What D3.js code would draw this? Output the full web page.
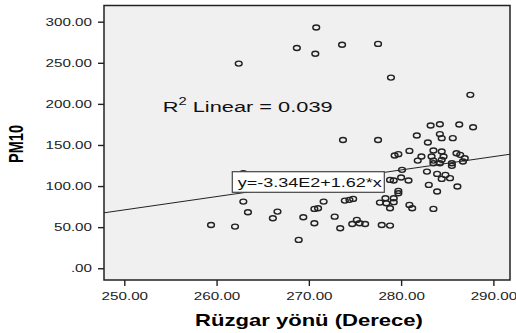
<!DOCTYPE html>
<html>
<head>
<meta charset="utf-8">
<script src="https://cdn.jsdelivr.net/npm/d3@7"></script>
<style>
  html, body { margin: 0; padding: 0; background: #ffffff; }
  svg { display: block; font-family: Arial, "Liberation Sans", sans-serif; }
</style>
</head>
<body>
<svg id="chart" width="516" height="333"></svg>
<script>
// ---- data ----
const windDirection = [
  270.8, 268.7, 270.7, 273.6, 277.5, 278.9, 287.5, 262.4, 273.7, 277.5,
  283.2, 284.2, 286.3, 287.8, 281.7, 284.2, 284.4, 285.6, 282.9, 280.9,
  279.7, 279.3, 283.5, 284.4, 286.0, 286.4, 282.2, 283.3, 284.6, 286.9,
  281.8, 283.5, 284.4, 285.5, 286.7, 283.5, 284.2, 285.5, 280.1, 282.8,
  283.9, 284.8, 284.4, 285.3, 278.8, 279.2, 280.8, 283.0, 286.1, 283.9,
  279.7, 279.7, 278.3, 279.2, 278.4, 279.2, 278.8, 280.9, 281.2, 283.5,
  277.9, 278.8, 262.9, 262.9, 263.4, 259.4, 262.0, 266.6, 266.1, 268.9,
  269.4, 270.6, 270.6, 271.0, 271.6, 272.8, 273.4, 273.9, 274.4, 274.8,
  274.7, 275.2, 275.5, 276.1, 277.7, 280.0
];
const pm10 = [
  293.0, 268.0, 261.0, 272.0, 273.0, 232.0, 211.0, 249.0, 156.0, 156.0,
  173.6, 175.3, 174.9, 171.6, 161.5, 163.2, 158.3, 158.3, 153.0, 142.8,
  138.8, 137.1, 143.2, 142.0, 140.0, 138.0, 135.9, 135.9, 135.9, 133.9,
  131.0, 131.0, 131.9, 127.8, 129.8, 127.8, 127.8, 124.6, 119.7, 117.6,
  114.8, 113.6, 108.7, 109.6, 107.5, 106.7, 106.7, 101.4, 99.4, 93.3,
  94.1, 91.3, 85.2, 85.2, 79.1, 80.4, 73.0, 77.1, 73.0, 72.2,
  52.7, 51.9, 115.7, 81.1, 68.2, 52.7, 50.7, 68.9, 60.9, 34.5,
  62.1, 54.8, 72.2, 73.0, 81.1, 62.8, 48.7, 82.3, 83.2, 84.4,
  53.9, 58.8, 54.8, 53.9, 79.9, 110.5
];
const xTickValues = [250, 260, 270, 280, 290];
const xTickLabels = ["250.00", "260.00", "270.00", "280.00", "290.00"];
const yTickValues = [0, 50, 100, 150, 200, 250, 300];
const yTickLabels = [".00", "50.00", "100.00", "150.00", "200.00", "250.00", "300.00"];
const fitCoefficients = [-334, 1.62];           // intercept, slope
const fitEquationText = "y=-3.34E2+1.62*x";
const rSquaredValue = "0.039";
const xTitle = "Rüzgar yönü (Derece)";
const yTitle = "PM10";

// ---- layout ----
const plot = { left: 104, right: 510, top: 5.5, bottom: 280 };
const STRETCH = 1.38;   // reference text is horizontally stretched
const svg = d3.select("#chart");

const x = d3.scaleLinear().domain([247.8, 291.8]).range([plot.left, plot.right]);
const y = d3.scaleLinear().domain([-14.3, 319.7]).range([plot.bottom, plot.top]);

// plot background
svg.append("rect")
  .attr("x", plot.left).attr("y", plot.top)
  .attr("width", plot.right - plot.left).attr("height", plot.bottom - plot.top)
  .attr("fill", "#f0f0f0");

function stretchText(sel, s) {
  sel.each(function () {
    const w = this.getComputedTextLength();
    this.setAttribute("textLength", w * s);
    this.setAttribute("lengthAdjust", "spacingAndGlyphs");
  });
}

// axes
const yAxis = svg.append("g")
  .attr("transform", `translate(${plot.left},0)`)
  .call(d3.axisLeft(y).tickValues(yTickValues)
    .tickFormat((d, i) => yTickLabels[i]).tickSize(6).tickSizeOuter(0).tickPadding(6));
const xAxis = svg.append("g")
  .attr("transform", `translate(0,${plot.bottom})`)
  .call(d3.axisBottom(x).tickValues(xTickValues)
    .tickFormat((d, i) => xTickLabels[i]).tickSize(6).tickSizeOuter(0).tickPadding(6));
[yAxis, xAxis].forEach(ax => {
  ax.select(".domain").remove();
  ax.selectAll(".tick line").attr("stroke", "#222").attr("stroke-width", 1.4);
  ax.selectAll(".tick text")
    .attr("font-family", "Arial, 'Liberation Sans', sans-serif")
    .attr("font-size", 11).attr("fill", "#222");
  stretchText(ax.selectAll(".tick text"), STRETCH);
});

// regression line
const xd = x.domain();
svg.append("line")
  .attr("x1", x(xd[0])).attr("y1", y(fitCoefficients[0] + fitCoefficients[1] * xd[0]))
  .attr("x2", x(xd[1])).attr("y2", y(fitCoefficients[0] + fitCoefficients[1] * xd[1]))
  .attr("stroke", "#222").attr("stroke-width", 1);

// points
const pts = windDirection.map((d, i) => ({ x: d, y: pm10[i] }));
svg.append("g").selectAll("ellipse").data(pts).join("ellipse")
  .attr("cx", d => x(d.x)).attr("cy", d => y(d.y))
  .attr("rx", 3.4).attr("ry", 2.5)
  .attr("fill", "none").attr("stroke", "#222").attr("stroke-width", 1.4);

// fit equation label box
const eqBox = { x: 232.3, y: 171.7, w: 152, h: 20.6 };
svg.append("rect")
  .attr("x", eqBox.x).attr("y", eqBox.y).attr("width", eqBox.w).attr("height", eqBox.h)
  .attr("fill", "#ffffff").attr("stroke", "#444").attr("stroke-width", 1.2);
svg.append("text")
  .attr("x", 237.7).attr("y", 187.3)
  .attr("font-size", 12).attr("fill", "#111")
  .attr("textLength", 144).attr("lengthAdjust", "spacingAndGlyphs")
  .text(fitEquationText);

// R² label
const rg = svg.append("g");
const rt = rg.append("text").attr("x", 0).attr("y", 0).attr("fill", "#111").attr("font-size", 15.5);
rt.append("tspan").text("R");
rt.append("tspan").attr("font-size", 10.5).attr("dy", -6.8).text("2");
rt.append("tspan").attr("dy", 6.8).text(" Linear = " + rSquaredValue);
{
  const w = rt.node().getComputedTextLength();
  rg.attr("transform", `translate(162.7,111.7) scale(${170 / w},1)`);
}

// frame
svg.append("rect")
  .attr("x", plot.left).attr("y", plot.top)
  .attr("width", plot.right - plot.left).attr("height", plot.bottom - plot.top)
  .attr("fill", "none").attr("stroke", "#222").attr("stroke-width", 1.5);

// x title
const xg = svg.append("g");
const xt = xg.append("text").attr("text-anchor", "middle")
  .attr("font-size", 16).attr("font-weight", "bold").attr("fill", "#000").text(xTitle);
{
  const w = xt.node().getComputedTextLength();
  xg.attr("transform", `translate(309,326) scale(${228 / w},1)`);
}

// y title (rotated; glyph height stretched horizontally)
const yg = svg.append("g");
yg.append("text").attr("text-anchor", "middle")
  .attr("font-size", 14.5).attr("font-weight", "bold").attr("fill", "#000").text(yTitle);
yg.attr("transform", `translate(23.3,144) rotate(-90) scale(1,${STRETCH})`);
</script>
</body>
</html>
